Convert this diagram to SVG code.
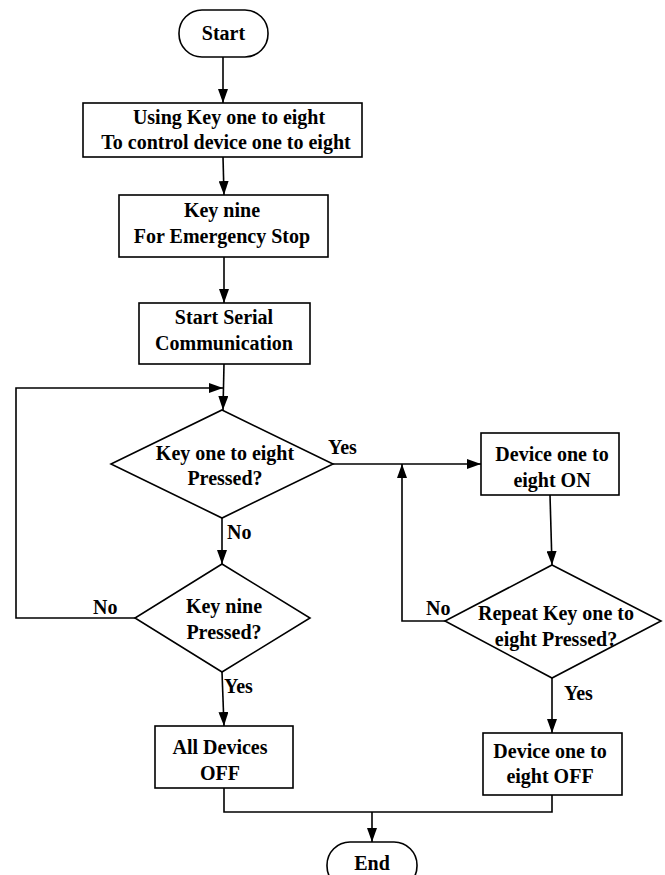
<svg xmlns="http://www.w3.org/2000/svg" width="665" height="875" viewBox="0 0 665 875">
<style>
.s{fill:#fff;stroke:#000;stroke-width:1.6}
.c{fill:none;stroke:#000;stroke-width:1.6}
.t{font-family:"Liberation Serif","Times New Roman",serif;font-weight:bold;font-size:20px;fill:#000;text-anchor:middle}
.l{font-family:"Liberation Serif","Times New Roman",serif;font-weight:bold;font-size:20px;fill:#000}
</style>
<defs>
<marker id="a" markerUnits="userSpaceOnUse" markerWidth="15" markerHeight="10" refX="14" refY="5" orient="auto">
<path d="M0,0 L14,5 L0,10 Z" fill="#000"/>
</marker>
</defs>
<rect width="665" height="875" fill="#fff"/>
<g id="connectors">
<line class="c" x1="223" y1="57" x2="223" y2="103" marker-end="url(#a)"/>
<line class="c" x1="223" y1="157" x2="224" y2="195" marker-end="url(#a)"/>
<line class="c" x1="224" y1="257" x2="224" y2="303" marker-end="url(#a)"/>
<line class="c" x1="224" y1="364" x2="223" y2="410" marker-end="url(#a)"/>
<polyline class="c" points="135,618 16,618 16,388 223,388" marker-end="url(#a)"/>
<line class="c" x1="222" y1="518" x2="222" y2="564" marker-end="url(#a)"/>
<line class="c" x1="222" y1="672" x2="224" y2="726" marker-end="url(#a)"/>
<line class="c" x1="333" y1="464" x2="481" y2="464" marker-end="url(#a)"/>
<line class="c" x1="550" y1="495" x2="552" y2="565" marker-end="url(#a)"/>
<polyline class="c" points="445,621 402,621 402,464" marker-end="url(#a)"/>
<line class="c" x1="552" y1="678" x2="552" y2="733" marker-end="url(#a)"/>
<polyline class="c" points="224,788 224,812 552,812 552,795"/>
<line class="c" x1="372" y1="812" x2="372" y2="842" marker-end="url(#a)"/>
<text class="l" x="328" y="454">Yes</text>
<text class="l" x="227" y="539">No</text>
<text class="l" x="93" y="614">No</text>
<text class="l" x="224" y="693">Yes</text>
<text class="l" x="426" y="615">No</text>
<text class="l" x="564" y="700">Yes</text>
</g>
<g id="start">
<rect class="s" x="179" y="10" width="89" height="47" rx="23" ry="23"/>
<text class="t" x="223.5" y="40">Start</text>
</g>
<g id="box1">
<rect class="s" x="83" y="103" width="279" height="54"/>
<text class="t" x="229" y="124">Using Key one to eight</text>
<text class="t" x="226" y="149">To control device one to eight</text>
</g>
<g id="box2">
<rect class="s" x="119" y="195" width="209" height="62"/>
<text class="t" x="222" y="217">Key nine</text>
<text class="t" x="222" y="243">For Emergency Stop</text>
</g>
<g id="box3">
<rect class="s" x="139" y="303" width="171" height="61"/>
<text class="t" x="224" y="324">Start Serial</text>
<text class="t" x="224" y="350">Communication</text>
</g>
<g id="d1">
<polygon class="s" points="222,410 333,464 222,518 111,464"/>
<text class="t" x="225" y="460">Key one to eight</text>
<text class="t" x="225" y="485">Pressed?</text>
</g>
<g id="d2">
<polygon class="s" points="222,564 310,618 222,672 135,618"/>
<text class="t" x="224" y="613">Key nine</text>
<text class="t" x="224" y="639">Pressed?</text>
</g>
<g id="box4">
<rect class="s" x="155" y="726" width="138" height="62"/>
<text class="t" x="220" y="754">All Devices</text>
<text class="t" x="220" y="780">OFF</text>
</g>
<g id="box5">
<rect class="s" x="481" y="433" width="138" height="62"/>
<text class="t" x="552" y="461">Device one to</text>
<text class="t" x="552" y="487">eight ON</text>
</g>
<g id="d3">
<polygon class="s" points="552,565 661,621 552,678 445,621"/>
<text class="t" x="556" y="620">Repeat Key one to</text>
<text class="t" x="556" y="646">eight Pressed?</text>
</g>
<g id="box6">
<rect class="s" x="483" y="733" width="139" height="62"/>
<text class="t" x="550" y="758">Device one to</text>
<text class="t" x="550" y="783">eight OFF</text>
</g>
<g id="end">
<rect class="s" x="327" y="842" width="90" height="47" rx="23" ry="23"/>
<text class="t" x="372" y="870">End</text>
</g>
</svg>
